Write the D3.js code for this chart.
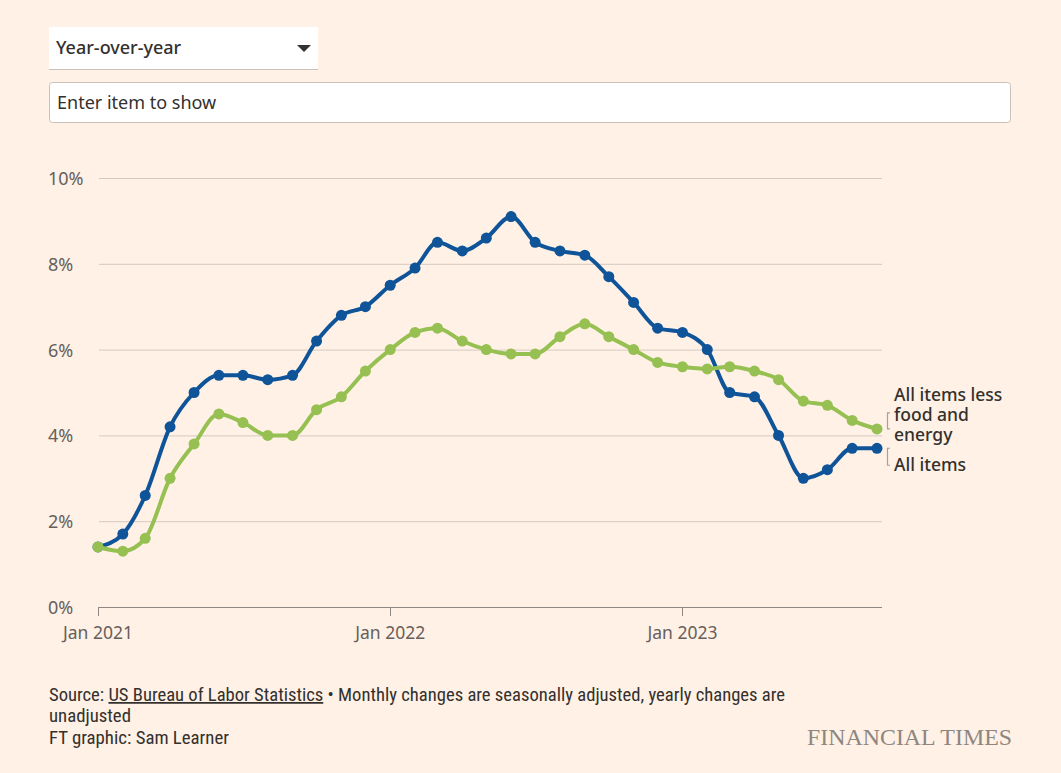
<!DOCTYPE html>
<html>
<head>
<meta charset="utf-8">
<script src="https://cdn.jsdelivr.net/npm/d3@7"></script>
<style>
  body { margin: 0; background: #fff1e5; }
  svg { display: block; }
</style>
</head>
<body>
<div id="chart"></div>
<script>
// months from Jan 2021 to Sep 2023
const months = d3.timeMonths(new Date(2021, 0, 1), new Date(2023, 9, 1));

// CPI year-over-year, %
const allItems = [1.4, 1.7, 2.6, 4.2, 5.0, 5.4, 5.4, 5.3, 5.4, 6.2, 6.8, 7.0,
  7.5, 7.9, 8.5, 8.3, 8.6, 9.1, 8.5, 8.3, 8.2, 7.7, 7.1, 6.5,
  6.4, 6.0, 5.0, 4.9, 4.0, 3.0, 3.2, 3.7, 3.7];
const core = [1.4, 1.3, 1.6, 3.0, 3.8, 4.5, 4.3, 4.0, 4.0, 4.6, 4.9, 5.5,
  6.0, 6.4, 6.5, 6.2, 6.0, 5.9, 5.9, 6.3, 6.6, 6.3, 6.0, 5.7,
  5.6, 5.55, 5.6, 5.5, 5.3, 4.8, 4.7, 4.35, 4.15];

const yTicks = [0, 2, 4, 6, 8, 10];
const xTicks = [new Date(2021, 0, 1), new Date(2022, 0, 1), new Date(2023, 0, 1)];

const W = 1061, H = 773;
const sans = "'Noto Sans', Lato, sans-serif";
const narrow = "'Liberation Sans Narrow', 'Roboto Condensed', 'Liberation Sans', sans-serif";

const svg = d3.select('#chart').append('svg')
  .attr('width', W).attr('height', H);

svg.append('rect').attr('width', W).attr('height', H).attr('fill', '#fff1e5');

// controls at the top
svg.append('rect').attr('x', 49).attr('y', 27).attr('width', 269).attr('height', 42)
  .attr('fill', '#fff');
svg.append('line').attr('x1', 49).attr('x2', 318).attr('y1', 69.5).attr('y2', 69.5)
  .attr('stroke', '#ccc1b7');
svg.append('text').attr('x', 56).attr('y', 54).text('Year-over-year')
  .attr('font-family', sans).attr('font-size', 18).attr('font-weight', 500).attr('fill', '#33302e');
svg.append('path').attr('d', 'M297,45 L311,45 L304,52 Z').attr('fill', '#33302e');

svg.append('rect').attr('x', 49.5).attr('y', 82.5).attr('width', 961).attr('height', 40)
  .attr('rx', 3).attr('fill', '#fff').attr('stroke', '#ccc1b7');
svg.append('text').attr('x', 57).attr('y', 109).text('Enter item to show')
  .attr('font-family', sans).attr('font-size', 18).attr('fill', '#33302e');

// chart area
const x = d3.scaleTime()
  .domain([new Date(2021, 0, 1), new Date(2023, 8, 1)])
  .range([98, 877]);
const y = d3.scaleLinear().domain([0, 10]).range([607, 178]);

const grid = svg.append('g');
grid.selectAll('line').data(yTicks).join('line')
  .attr('x1', 99).attr('x2', 882)
  .attr('y1', d => y(d) + 0.5).attr('y2', d => y(d) + 0.5)
  .attr('stroke', d => d === 0 ? '#8f8781' : '#d4cac1')
  .attr('stroke-width', 1);
grid.selectAll('text').data(yTicks).join('text')
  .attr('x', 48).attr('y', d => y(d) + 7)
  .text(d => d + '%')
  .attr('font-family', sans).attr('font-size', 18).attr('fill', '#66605c');

const xAxis = svg.append('g');
xAxis.selectAll('line').data(xTicks).join('line')
  .attr('x1', d => Math.round(x(d)) + 0.5).attr('x2', d => Math.round(x(d)) + 0.5)
  .attr('y1', 607).attr('y2', 616)
  .attr('stroke', '#8f8781');
xAxis.selectAll('text').data(xTicks).join('text')
  .attr('x', d => x(d)).attr('y', 639)
  .attr('text-anchor', 'middle')
  .text(d3.timeFormat('%b %Y'))
  .attr('font-family', sans).attr('font-size', 17.5).attr('fill', '#66605c');

const series = [
  { name: 'all', values: allItems, color: '#0f5499' },
  { name: 'core', values: core, color: '#96c052' }
];

const line = d3.line()
  .x((d, i) => x(months[i]))
  .y(d => y(d))
  .curve(d3.curveMonotoneX);

series.forEach(s => {
  const g = svg.append('g');
  g.append('path').attr('d', line(s.values))
    .attr('fill', 'none').attr('stroke', s.color).attr('stroke-width', 4)
    .attr('stroke-linejoin', 'round');
  g.selectAll('circle').data(s.values).join('circle')
    .attr('cx', (d, i) => x(months[i])).attr('cy', d => y(d))
    .attr('r', 5.5).attr('fill', s.color);
});

// direct labels with small brackets
const lab = svg.append('g').attr('font-family', sans).attr('font-size', 17.5)
  .attr('font-weight', 500).attr('fill', '#33302e');
const lastCore = y(core[core.length - 1]);
const lastAll = y(allItems[allItems.length - 1]);
['All items less', 'food and', 'energy'].forEach((t, i) => {
  lab.append('text').attr('x', 894).attr('y', 401 + i * 20).text(t);
});
lab.append('text').attr('x', 894).attr('y', 471).text('All items');

svg.append('path')
  .attr('d', `M890,${lastCore - 16} L887.5,${lastCore - 16} L887.5,${lastCore} L890,${lastCore}`)
  .attr('fill', 'none').attr('stroke', '#a8a09a').attr('stroke-width', 1.2);
svg.append('path')
  .attr('d', `M890,${lastAll} L887.5,${lastAll} L887.5,${lastAll + 17} L890,${lastAll + 17}`)
  .attr('fill', 'none').attr('stroke', '#a8a09a').attr('stroke-width', 1.2);

// footer
const foot = svg.append('g').attr('font-family', narrow).attr('font-size', 17.5).attr('fill', '#33302e');
const src = foot.append('text').attr('x', 49).attr('y', 701)
  .attr('textLength', 736).attr('lengthAdjust', 'spacingAndGlyphs');
src.append('tspan').text('Source: ');
src.append('tspan').text('US Bureau of Labor Statistics').attr('text-decoration', 'underline');
src.append('tspan').text(' \u2022 Monthly changes are seasonally adjusted, yearly changes are');
foot.append('text').attr('x', 49).attr('y', 722).text('unadjusted')
  .attr('textLength', 82).attr('lengthAdjust', 'spacingAndGlyphs');
foot.append('text').attr('x', 49).attr('y', 744).text('FT graphic: Sam Learner')
  .attr('textLength', 180).attr('lengthAdjust', 'spacingAndGlyphs');

svg.append('text').attr('x', 807).attr('y', 745)
  .text('FINANCIAL TIMES')
  .attr('textLength', 205).attr('lengthAdjust', 'spacingAndGlyphs')
  .attr('font-family', "'Liberation Serif', 'DejaVu Serif', serif")
  .attr('font-size', 23).attr('fill', '#8e8680');
</script>
</body>
</html>
